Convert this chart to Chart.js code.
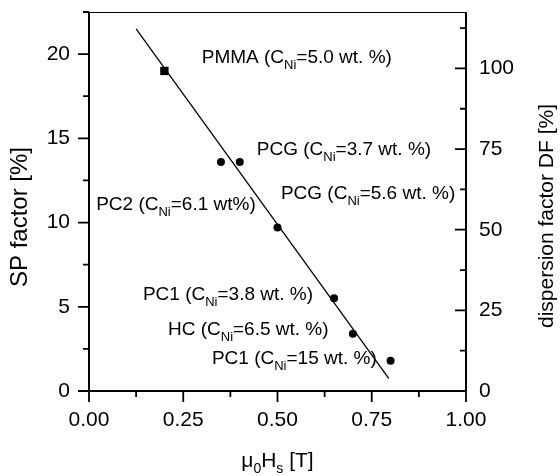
<!DOCTYPE html>
<html>
<head>
<meta charset="utf-8">
<script src="https://cdn.jsdelivr.net/npm/chart.js@4/dist/chart.umd.min.js"></script>
<style>
  body { margin: 0; background: #fff; }
</style>
</head>
<body>
<canvas id="sp" width="560" height="476"></canvas>
<script>
// measured samples (field in T, SP factor in %)
const fieldT = [0.35, 0.40, 0.50, 0.65, 0.70, 0.80];
const spFactor = [13.6, 13.6, 9.7, 5.5, 3.4, 1.8];
const pmmaField = [0.20];
const pmmaSp = [19.0];

// straight fit line, both ends
const fitX = [0.125, 0.795];
const fitY = [21.5, 0.75];

const xTicks = [0, 0.25, 0.5, 0.75, 1.0];
const spTicks = [0, 5, 10, 15, 20];
const dfTicks = [0, 25, 50, 75, 100];

// sample labels: text before subscript, subscript, text after
const noteText = [
  ['PMMA (C', 'Ni', '=5.0 wt. %)'],
  ['PCG (C', 'Ni', '=3.7 wt. %)'],
  ['PCG (C', 'Ni', '=5.6 wt. %)'],
  ['PC2 (C', 'Ni', '=6.1 wt%)'],
  ['PC1 (C', 'Ni', '=3.8 wt. %)'],
  ['HC (C', 'Ni', '=6.5 wt. %)'],
  ['PC1 (C', 'Ni', '=15 wt. %)']
];
// where each label starts (x in T, baseline in SP %)
const noteAt = [
  [0.299, 19.48],
  [0.445, 14.01],
  [0.509, 11.40],
  [0.019, 10.75],
  [0.143, 5.40],
  [0.2095, 3.33],
  [0.326, 1.60]
];

const FONT = '"Liberation Sans", Arial, Helvetica, sans-serif';

const pts = (xs, ys) => xs.map((x, i) => ({ x, y: ys[i] }));

// draws a run of [text, isSub] pieces starting at x
const drawPieces = (ctx, pieces, x, y, size, subSize) => {
  pieces.forEach(([txt, sub]) => {
    ctx.font = (sub ? subSize : size) + 'px ' + FONT;
    ctx.fillText(txt, x, sub ? y + 6 : y);
    x += ctx.measureText(txt).width;
  });
  return x;
};
const piecesWidth = (ctx, pieces, size, subSize) => {
  let w = 0;
  pieces.forEach(([txt, sub]) => {
    ctx.font = (sub ? subSize : size) + 'px ' + FONT;
    w += ctx.measureText(txt).width;
  });
  return w;
};

const framePlugin = {
  id: 'frame',
  afterDraw(chart) {
    const ctx = chart.ctx;
    const a = chart.chartArea;
    const sx = chart.scales.x, sy = chart.scales.y, sd = chart.scales.df;
    ctx.save();
    ctx.strokeStyle = '#000';
    ctx.fillStyle = '#000';

    // top border, thin
    ctx.lineWidth = 1;
    ctx.beginPath();
    ctx.moveTo(a.left, a.top + 0.5);
    ctx.lineTo(a.right, a.top + 0.5);
    ctx.stroke();

    // axis lines
    ctx.lineWidth = 2;
    ctx.beginPath();
    ctx.moveTo(a.left, a.top);
    ctx.lineTo(a.left, a.bottom);
    ctx.lineTo(a.right, a.bottom);
    ctx.moveTo(a.right, a.top);
    ctx.lineTo(a.right, a.bottom);
    ctx.stroke();

    const major = 11, minor = 6;
    ctx.lineWidth = 1.8;
    ctx.beginPath();
    // x ticks, outward
    xTicks.forEach(v => {
      const px = sx.getPixelForValue(v);
      ctx.moveTo(px, a.bottom); ctx.lineTo(px, a.bottom + major);
    });
    for (let v = 0.125; v < 1; v += 0.25) {
      const px = sx.getPixelForValue(v);
      ctx.moveTo(px, a.bottom); ctx.lineTo(px, a.bottom + minor);
    }
    // left ticks, outward
    spTicks.forEach(v => {
      const py = sy.getPixelForValue(v);
      ctx.moveTo(a.left, py); ctx.lineTo(a.left - major, py);
    });
    for (let v = 2.5; v <= sy.max + 0.01; v += 5) {
      const py = sy.getPixelForValue(v);
      ctx.moveTo(a.left, py); ctx.lineTo(a.left - minor, py);
    }
    // right ticks, inward
    dfTicks.forEach(v => {
      const py = sd.getPixelForValue(v);
      ctx.moveTo(a.right, py); ctx.lineTo(a.right - major, py);
    });
    for (let v = 12.5; v < sd.max; v += 25) {
      const py = sd.getPixelForValue(v);
      ctx.moveTo(a.right, py); ctx.lineTo(a.right - minor, py);
    }
    ctx.stroke();

    // sample labels
    ctx.textAlign = 'left';
    ctx.textBaseline = 'alphabetic';
    noteText.forEach((n, i) => {
      const x0 = sx.getPixelForValue(noteAt[i][0]);
      const y0 = sy.getPixelForValue(noteAt[i][1]);
      drawPieces(ctx, [[n[0], false], [n[1], true], [n[2], false]], x0, y0, 19, 13);
    });

    // x title: mu0 Hs [T]
    const xt = [['\u03bc', false], ['0', true], ['H', false], ['s', true], [' [T]', false]];
    const w = piecesWidth(ctx, xt, 21, 14);
    drawPieces(ctx, xt, (a.left + a.right) / 2 - w / 2, 467, 21, 14);

    // y titles
    ctx.textAlign = 'center';
    ctx.textBaseline = 'middle';
    ctx.save();
    ctx.translate(20, 217);
    ctx.rotate(-Math.PI / 2);
    ctx.font = '24px ' + FONT;
    ctx.fillText('SP factor [%]', 0, 0);
    ctx.restore();

    ctx.save();
    ctx.translate(547, 216);
    ctx.rotate(-Math.PI / 2);
    ctx.font = '21px ' + FONT;
    ctx.fillText('dispersion factor DF [%]', 0, 0);
    ctx.restore();

    ctx.restore();
  }
};

const tickFont = { family: FONT, size: 21 };

// keep the plot box fixed, no extra room for label overhang
const noPad = s => {
  s.paddingTop = 0; s.paddingBottom = 0;
  s.paddingLeft = 0; s.paddingRight = 0;
};

new Chart(document.getElementById('sp'), {
  type: 'scatter',
  data: {
    datasets: [
      {
        data: pts(fitX, fitY),
        showLine: true,
        borderColor: '#000',
        borderWidth: 1.3,
        pointRadius: 0
      },
      {
        data: pts(fieldT, spFactor),
        pointStyle: 'circle',
        pointRadius: 4,
        backgroundColor: '#000',
        borderWidth: 0
      },
      {
        data: pts(pmmaField, pmmaSp),
        pointStyle: 'rect',
        pointRadius: 5.9,
        backgroundColor: '#000',
        borderWidth: 0
      }
    ]
  },
  options: {
    responsive: false,
    animation: false,
    layout: { padding: { top: 12 } },
    plugins: {
      legend: { display: false },
      tooltip: { enabled: false }
    },
    scales: {
      x: {
        type: 'linear',
        min: 0,
        max: 1,
        grid: { display: false, drawTicks: false },
        border: { display: false },
        afterBuildTicks: s => { s.ticks = xTicks.map(value => ({ value })); },
        afterFit: s => { s.height = 85; noPad(s); },
        ticks: {
          color: '#000',
          font: tickFont,
          padding: 17,
          maxRotation: 0,
          callback: v => v.toFixed(2)
        }
      },
      y: {
        position: 'left',
        min: 0,
        max: 22.5,
        grid: { display: false, drawTicks: false },
        border: { display: false },
        afterBuildTicks: s => { s.ticks = spTicks.map(value => ({ value })); },
        afterFit: s => { s.width = 89; noPad(s); },
        ticks: { color: '#000', font: tickFont, padding: 19 }
      },
      df: {
        position: 'right',
        min: 0,
        max: 117.5,
        grid: { display: false, drawTicks: false },
        border: { display: false },
        afterBuildTicks: s => { s.ticks = dfTicks.map(value => ({ value })); },
        afterFit: s => { s.width = 94; noPad(s); },
        ticks: { color: '#000', font: tickFont, padding: 13 }
      }
    }
  },
  plugins: [framePlugin]
});
</script>
</body>
</html>
